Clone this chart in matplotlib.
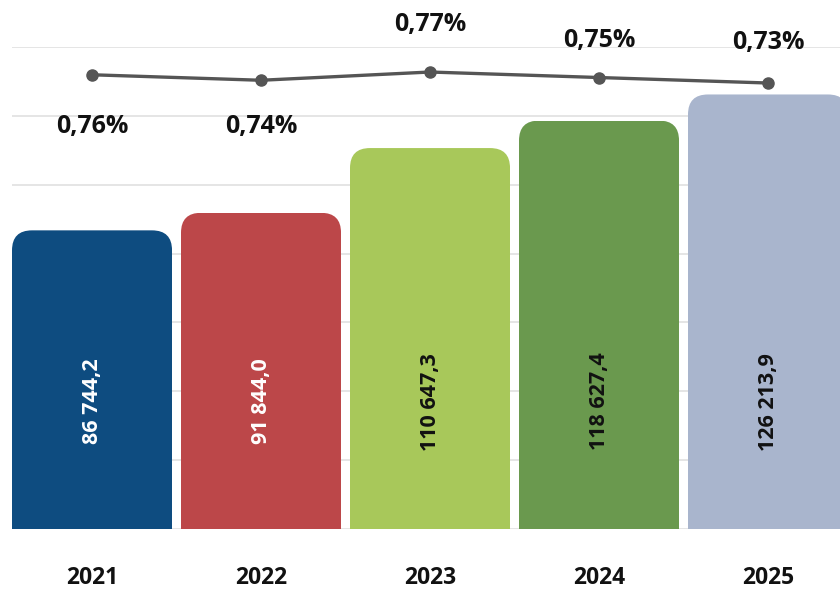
import matplotlib
matplotlib.use("Agg")
import matplotlib.pyplot as plt
import numpy as np
from matplotlib.patches import FancyBboxPatch

plt.rcParams['font.family'] = ['Open Sans', 'DejaVu Sans']

# data
years = ['2021', '2022', '2023', '2024', '2025']
amounts = [86744.2, 91844.0, 110647.3, 118627.4, 126213.9]
shares = [0.76, 0.74, 0.77, 0.75, 0.73]

bar_colors = ['#0E4C80', '#BC4749', '#A8C85A', '#6A994E', '#A9B5CD']
text_colors = ['white', 'white', '#111111', '#111111', '#111111']
# label offsets for the percentage labels (points, + is down)
pct_offsets = [37, 33, -34, -27, -29]

fig = plt.figure(figsize=(8.4, 5.92), dpi=100)
ax = fig.add_axes([12 / 840, 63 / 592, 828 / 840, 482 / 592])

x = np.arange(len(years))
bar_w = 0.947
ax.set_xlim(-bar_w / 2, 4.426)
ax.set_ylim(0, 140000)
ax.set_yticks(np.arange(0, 140001, 20000))
ax.yaxis.grid(True, color='#E3E3E3', linewidth=1.3)
ax.set_axisbelow(True)
for s in ax.spines.values():
    s.set_visible(False)
ax.set_xticks(x)
ax.set_xticklabels(years, fontsize=16.5, fontweight='bold', color='#111111')

bars = ax.bar(x, amounts, width=bar_w, color=bar_colors, zorder=2)

# rounded top corners: clip each bar with a rounded box
disp = ax.transData.transform([(0, 0), (1, 1)])
px_x = disp[1, 0] - disp[0, 0]
px_y = disp[1, 1] - disp[0, 1]
r_px = 20
rx = r_px / px_x
aspect = px_x / px_y
for b in bars:
    x0, w, h = b.get_x(), b.get_width(), b.get_height()
    extra = 20000
    clip = FancyBboxPatch((x0, -extra), w, h + extra,
                          boxstyle=f"round,pad=0,rounding_size={rx}",
                          mutation_aspect=aspect, transform=ax.transData)
    b.set_clip_path(clip)

# values inside bars
for xi, v, tc in zip(x, amounts, text_colors):
    lbl = f"{v:,.1f}".replace(',', ' ').replace('.', ',')
    ax.text(xi, 37000, lbl, rotation=90, ha='center', va='center',
            fontsize=15.5, fontweight='bold', color=tc, zorder=3)

# share line on secondary axis
ax2 = ax.twinx()
ax2.set_ylim(-0.892, 0.861)
ax2.axis('off')
ax2.plot(x, shares, color='#555555', linewidth=2.4, marker='o',
         markersize=8, zorder=4)
for xi, p, off in zip(x, shares, pct_offsets):
    ax2.annotate(f"{p:.2f}%".replace('.', ','), (xi, p),
                 xytext=(0, -off), textcoords='offset points',
                 ha='center', va='center', fontsize=18, fontweight='bold',
                 color='#111111', annotation_clip=False)

# twinx re-enables left ticks, so hide them afterwards
ax.tick_params(axis='y', left=False, right=False, labelleft=False)
ax.tick_params(axis='x', length=0, pad=27)

plt.savefig('out.png', dpi=100)
